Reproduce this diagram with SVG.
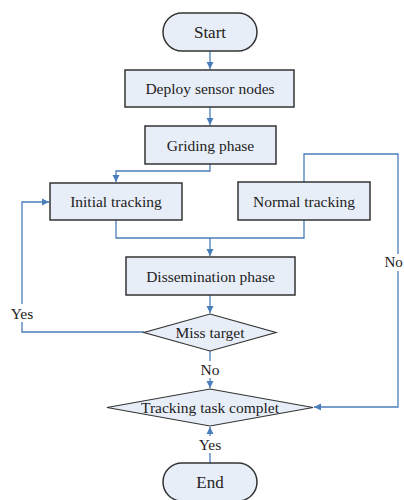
<svg xmlns="http://www.w3.org/2000/svg" width="404" height="500" viewBox="0 0 404 500">
<defs>
<marker id="arr" markerWidth="8" markerHeight="8" refX="7" refY="4" orient="auto" markerUnits="userSpaceOnUse">
<path d="M0,0.5 L7,4 L0,7.5 Z" fill="#4a7ebb"/>
</marker>
</defs>
<style>
.box{fill:#e8eef8;stroke:#333;stroke-width:1.5}
.dia{fill:#e8eef8;stroke:#333;stroke-width:1.2}
text{font-family:'Liberation Serif','Times New Roman','DejaVu Serif',serif;font-size:15.5px;fill:#222;dominant-baseline:central}
.t{text-anchor:middle}
.big{font-size:17px}
.c{fill:none;stroke:#4a7ebb;stroke-width:1.3}
</style>
<rect width="404" height="500" fill="#fff"/>
<g id="connectors">
<path class="c" d="M210,51 V69" marker-end="url(#arr)"/>
<path class="c" d="M210,107 V125" marker-end="url(#arr)"/>
<path class="c" d="M210,164 V171 H116 V182" marker-end="url(#arr)"/>
<path class="c" d="M116,220 V238 H304 V220"/>
<path class="c" d="M210,238 V256" marker-end="url(#arr)"/>
<path class="c" d="M210,295 V313" marker-end="url(#arr)"/>
<path class="c" d="M144,332 H22 V202 H49" marker-end="url(#arr)"/>
<path class="c" d="M210,351 V388" marker-end="url(#arr)"/>
<path class="c" d="M304,182 V154 H398 V407 H314" marker-end="url(#arr)"/>
<path class="c" d="M210,463 V427" marker-end="url(#arr)"/>
</g>
<g id="start">
<rect class="box" x="163" y="13" width="94" height="38" rx="19" ry="19"/>
<text class="t big" x="210" y="32">Start</text>
</g>
<g id="deploy">
<rect class="box" x="125" y="70" width="169" height="37"/>
<text class="t" x="210" y="88.5">Deploy sensor nodes</text>
</g>
<g id="griding">
<rect class="box" x="145" y="126" width="131" height="38"/>
<text class="t" x="210.5" y="145">Griding phase</text>
</g>
<g id="initial">
<rect class="box" x="50" y="183" width="132" height="37"/>
<text class="t" x="116" y="201.5">Initial tracking</text>
</g>
<g id="normal">
<rect class="box" x="238" y="182" width="132" height="38"/>
<text class="t" x="304" y="201">Normal tracking</text>
</g>
<g id="dissemination">
<rect class="box" x="126" y="257" width="169" height="38"/>
<text class="t" x="210.5" y="276">Dissemination phase</text>
</g>
<g id="miss">
<polygon class="dia" points="210,314 276,332.5 210,351 144,332.5"/>
<text class="t" x="210" y="332">Miss target</text>
</g>
<g id="complete">
<polygon class="dia" points="210,389 313,407.5 210,426 107,407.5"/>
<text class="t" x="210" y="407">Tracking task complet</text>
</g>
<g id="end">
<rect class="box" x="163" y="463" width="94" height="38" rx="19" ry="19"/>
<text class="t big" x="210" y="482">End</text>
</g>
<g id="labels">
<rect x="8" y="304" width="30" height="18" fill="#fff"/>
<text class="t" x="22" y="313">Yes</text>
<rect x="198" y="361" width="24" height="17" fill="#fff"/>
<text class="t" x="210" y="369">No</text>
<rect x="384" y="254" width="20" height="17" fill="#fff"/>
<text x="384.5" y="262" style="font-size:15px">No</text>
<rect x="196" y="436" width="28" height="17" fill="#fff"/>
<text class="t" x="210" y="444.5">Yes</text>
</g>
</svg>
